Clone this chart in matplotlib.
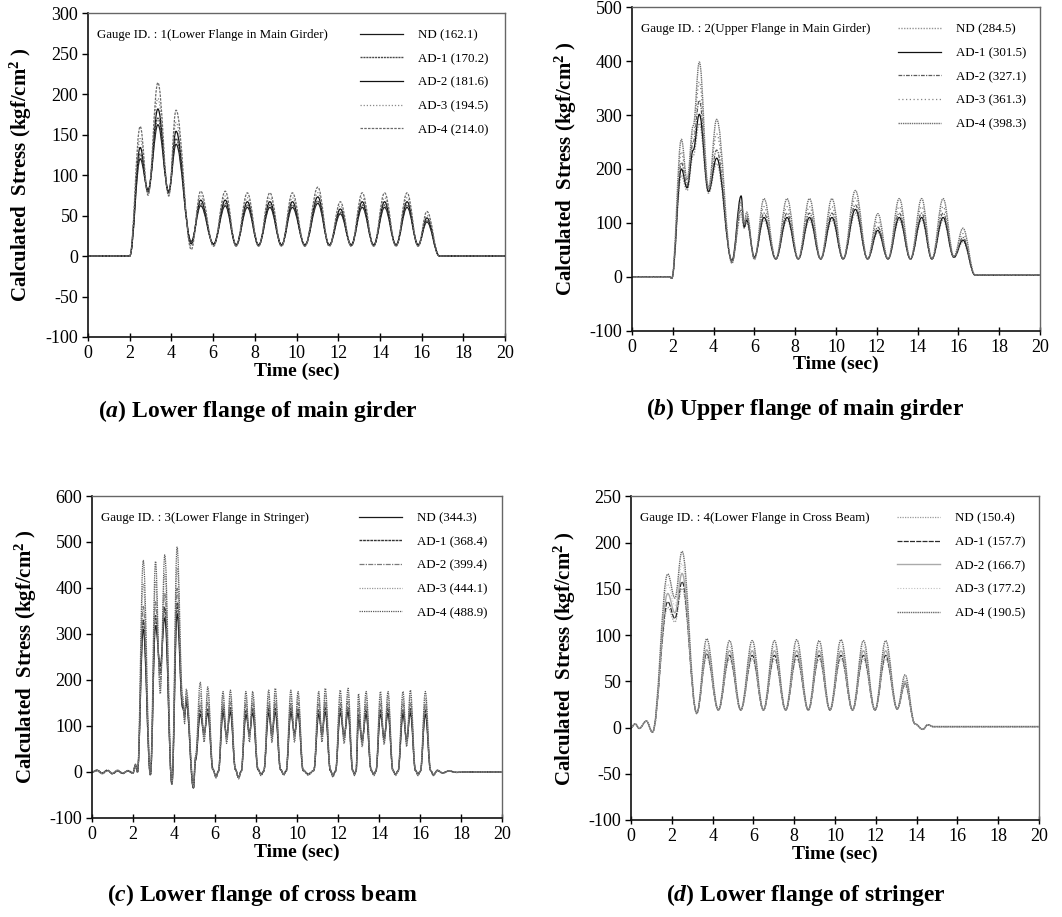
import matplotlib
matplotlib.use("Agg")
import matplotlib.pyplot as plt
from matplotlib.path import Path
from matplotlib.patches import PathPatch
from matplotlib.lines import Line2D

plt.rcParams.update({
    "font.family": ["Liberation Serif", "DejaVu Serif"],
    "mathtext.fontset": "custom",
    "mathtext.rm": "Liberation Serif",
    "mathtext.it": "Liberation Serif:italic",
    "mathtext.bf": "Liberation Serif:bold",
    "mathtext.bfit": "Liberation Serif:italic:bold",
    "mathtext.default": "regular",
    "axes.unicode_minus": False,
})

series_names = ["ND", "AD-1", "AD-2", "AD-3", "AD-4"]

# ---------------- (a) Gauge 1: lower flange, main girder ----------------
a_time = [0, 2.0, 2.5, 2.88, 3.35, 3.87, 4.22, 4.95, 5.40, 6.02, 6.58, 7.10, 7.64,
          8.18, 8.72, 9.28, 9.80, 10.40, 11.02, 11.57, 12.10, 12.62, 13.15, 13.70,
          14.22, 14.77, 15.30, 15.83, 16.25, 16.85, 20.0]
a_nd = [0, 0, 120, 82, 162.1, 80, 138, 18, 62, 15, 62, 14, 60, 14, 60, 14, 60, 14,
        65, 14, 52, 14, 60, 14, 60, 14, 60, 14, 42, 0, 0]
a_ad1 = [0, 0, 126, 80, 170.2, 79, 145, 17, 65, 14, 65, 13, 63, 13, 63, 13, 63, 13,
         68, 13, 54, 13, 63, 13, 63, 13, 63, 13, 44, 0, 0]
a_ad2 = [0, 0, 134, 79, 181.6, 78, 154, 15, 69, 14, 69, 13, 67, 13, 67, 13, 67, 13,
         73, 13, 58, 13, 67, 13, 67, 13, 67, 13, 47, 0, 0]
a_ad3 = [0, 0, 145, 77, 194.5, 76, 165, 12, 74, 13, 74, 12, 72, 12, 72, 12, 72, 12,
         78, 12, 62, 12, 72, 12, 72, 12, 72, 12, 50, 0, 0]
a_ad4 = [0, 0, 160, 75, 214.0, 74, 180, 8, 80, 12, 80, 12, 78, 12, 78, 12, 78, 12,
         85, 12, 67, 12, 78, 12, 78, 12, 78, 12, 55, 0, 0]

# ---------------- (b) Gauge 2: upper flange, main girder ----------------
b_time = [0, 1.85, 1.95, 2.42, 2.70, 3.00, 3.30, 3.75, 4.15, 4.90, 5.35, 5.50, 5.62,
          6.00, 6.47, 7.05, 7.60, 8.15, 8.70, 9.25, 9.80, 10.35, 10.95, 11.55, 12.05,
          12.55, 13.10, 13.65, 14.20, 14.70, 15.25, 15.78, 16.22, 16.82, 20.0]
b_nd = [0, 0, -3, 188, 160, 225, 284.5, 155, 210, 30, 115, 90, 100, 38, 105, 33, 105,
        33, 105, 33, 105, 33, 118, 33, 82, 33, 105, 33, 105, 33, 105, 36, 65, 3, 3]
b_ad1 = [0, 0, -3, 200, 165, 235, 301.5, 158, 220, 30, 150, 92, 105, 36, 110, 33, 110,
         33, 110, 33, 110, 33, 125, 33, 86, 33, 110, 33, 110, 33, 110, 36, 68, 3, 3]
b_ad2 = [0, 0, -3, 212, 170, 250, 327.1, 160, 235, 28, 125, 95, 110, 35, 118, 33, 118,
         33, 118, 33, 118, 33, 133, 33, 92, 33, 118, 33, 118, 33, 118, 36, 73, 3, 3]
b_ad3 = [0, 0, -3, 232, 175, 265, 361.3, 163, 265, 27, 132, 98, 115, 33, 130, 33, 130,
         33, 130, 33, 130, 33, 146, 33, 103, 33, 130, 33, 130, 33, 130, 37, 80, 3, 3]
b_ad4 = [0, 0, -3, 255, 180, 280, 398.3, 165, 292, 25, 140, 100, 120, 32, 145, 33, 145,
         33, 145, 33, 145, 33, 160, 33, 117, 33, 145, 33, 145, 33, 145, 38, 90, 3, 3]

# ---------------- (c) Gauge 3: lower flange, cross beam ----------------
c_time = [0.0, 0.25, 0.5, 0.75, 1.0, 1.25, 1.5, 1.75, 2.0, 2.12, 2.22,
          2.5, 2.85, 3.1, 3.33, 3.55, 3.9, 4.15, 4.42, 4.52, 4.6, 4.95, 5.05,
          5.28, 5.47, 5.65, 5.9, 6.05, 6.17,
          6.39, 6.57, 6.75, 7.0, 7.15, 7.28,
          7.51, 7.68, 7.84, 8.1, 8.25, 8.38,
          8.62, 8.78, 8.94, 9.2, 9.35, 9.47,
          9.7, 9.88, 10.05, 10.3, 10.55, 10.82,
          11.06, 11.22, 11.38, 11.63, 11.75, 11.88,
          12.11, 12.3, 12.49, 12.72, 12.8, 12.88,
          13.0, 13.18, 13.37, 13.62, 13.75, 13.85,
          14.07, 14.25, 14.44, 14.68, 14.8, 14.93,
          15.17, 15.35, 15.53, 15.78, 15.9, 16.02,
          16.26, 16.52, 16.65, 16.85, 17.1, 17.4, 17.8, 18.2, 20.0]
c_nd = [0, 3, -3, 3, -3, 3, -3, 2, -2, 15, 0,
        310, -5, 318, 230, 335, -25, 344.3, 140, 125, 150, -35, 25,
        125, 85, 128, 5, -10, 2,
        128, 80, 130, 5, -12, 2,
        125, 85, 128, 5, -5, 2,
        128, 82, 130, 5, -5, 2,
        128, 85, 128, 3, -5, 3,
        125, 85, 130, 3, -8, 2,
        128, 80, 130, 3, -5, 2,
        115, 70, 125, 3, -5, 2,
        125, 75, 128, 3, -5, 2,
        125, 70, 128, 3, -5, 2,
        125, 3, -6, 3, -2, 2, -1, 0, 0]
c_ad1 = [0, 4, -2, 4, -4, 2, -3, 3, -2, 14, 0,
         330, -6, 340, 215, 358, -26, 368.4, 145, 122, 158, -35, 27,
         135, 82, 138, 5, -10, 2,
         138, 77, 140, 5, -12, 2,
         135, 82, 138, 5, -6, 2,
         138, 80, 140, 5, -5, 2,
         138, 82, 138, 3, -4, 3,
         135, 82, 140, 3, -8, 2,
         138, 77, 140, 3, -5, 2,
         125, 68, 135, 3, -5, 2,
         135, 72, 138, 3, -5, 2,
         135, 68, 138, 3, -5, 2,
         135, 3, -6, 3, -2, 2, -1, 0, 0]
c_ad2 = [0, 2, -4, 3, -2, 4, -2, 2, -3, 16, 0,
         360, -5, 370, 200, 388, -27, 399.4, 150, 118, 165, -33, 30,
         150, 78, 152, 6, -11, 1,
         150, 73, 152, 6, -13, 1,
         148, 78, 150, 6, -6, 1,
         150, 76, 153, 6, -5, 1,
         150, 78, 150, 4, -5, 3,
         148, 78, 153, 4, -9, 1,
         150, 73, 153, 4, -6, 1,
         138, 65, 148, 4, -6, 1,
         148, 70, 150, 4, -6, 1,
         148, 65, 150, 4, -6, 1,
         148, 3, -7, 4, -2, 2, -1, 0, 0]
c_ad3 = [0, 3, -3, 2, -3, 3, -4, 3, -2, 15, 0,
         410, -6, 415, 185, 430, -28, 444.1, 160, 112, 172, -30, 32,
         170, 72, 170, 6, -12, 1,
         165, 68, 165, 6, -14, 1,
         162, 72, 165, 6, -7, 1,
         165, 70, 168, 6, -6, 1,
         165, 72, 165, 4, -6, 3,
         162, 72, 168, 4, -10, 1,
         165, 68, 168, 4, -7, 1,
         152, 60, 162, 4, -7, 1,
         162, 65, 165, 4, -7, 1,
         162, 60, 165, 4, -7, 1,
         160, 4, -7, 4, -3, 2, -1, 0, 0]
c_ad4 = [0, 4, -3, 3, -4, 2, -3, 2, -3, 17, 0,
         460, -7, 458, 170, 472, -28, 488.9, 165, 105, 180, -28, 35,
         195, 65, 185, 7, -13, 1,
         175, 62, 178, 7, -15, 1,
         175, 65, 175, 7, -8, 1,
         178, 64, 182, 7, -7, 1,
         178, 65, 175, 5, -7, 3,
         175, 65, 182, 5, -11, 1,
         178, 62, 182, 5, -8, 1,
         170, 55, 175, 5, -8, 1,
         175, 60, 175, 5, -8, 1,
         175, 55, 178, 5, -8, 1,
         175, 4, -8, 4, -3, 2, -1, 0, 0]

# ---------------- (d) Gauge 4: lower flange, stringer ----------------
d_time = [0, 0.2, 0.4, 0.75, 1.05, 1.80, 2.15, 2.50, 3.22, 3.71, 4.28, 4.83, 5.38,
          5.94, 6.49, 7.03, 7.58, 8.12, 8.69, 9.22, 9.75, 10.29, 10.86, 11.39, 11.96,
          12.48, 13.05, 13.43, 13.92, 14.30, 14.55, 14.80, 20.0]
d_nd = [0, 4, -1, 7, -5, 130, 114, 150.4, 16, 76, 19, 74, 19, 74, 19, 74, 19, 74, 19,
        74, 19, 74, 19, 74, 19, 74, 20, 45, 4, -2, 3, 1, 1]
d_ad1 = [0, 4, -1, 7, -5, 136, 118, 157.7, 16, 80, 19, 78, 19, 78, 19, 78, 19, 78, 19,
         78, 19, 78, 19, 78, 19, 78, 20, 48, 4, -2, 3, 1, 1]
d_ad2 = [0, 4, -1, 7, -5, 145, 124, 166.7, 16, 84, 19, 83, 19, 83, 19, 83, 19, 83, 19,
         83, 19, 83, 19, 83, 19, 83, 20, 50, 4, -2, 3, 1, 1]
d_ad3 = [0, 4, -1, 7, -5, 155, 132, 177.2, 15, 89, 19, 88, 19, 88, 19, 88, 19, 88, 19,
         88, 19, 88, 19, 88, 19, 88, 20, 53, 4, -2, 3, 1, 1]
d_ad4 = [0, 4, -1, 7, -5, 166, 140, 190.5, 15, 96, 19, 94, 19, 94, 19, 94, 19, 95, 19,
         94, 19, 95, 19, 94, 19, 94, 20, 57, 4, -2, 3, 1, 1]

x_ticks = list(range(0, 21, 2))

panels = [
    dict(rect=[0.0829, 0.6325, 0.3927, 0.3533], time=a_time,
         values=[a_nd, a_ad1, a_ad2, a_ad3, a_ad4],
         ylim=(-100, 300), yticks=list(range(-100, 301, 50)),
         gauge="Gauge ID. : 1(Lower Flange in Main Girder)",
         caption="($\\mathbfit{a}$) Lower flange of main girder", cap_xy=(0.243, 0.552),
         styles=[("#1a1a1a", "-", 0.9), ("#4a4a4a", (0, (1.5, 0.6)), 1.0),
                 ("#111111", "-", 0.9), ("#8a8a8a", (0, (1, 1.5)), 0.9),
                 ("#6a6a6a", (0, (2, 1)), 0.9)]),
    dict(rect=[0.5951, 0.6394, 0.3842, 0.3527], time=b_time,
         values=[b_nd, b_ad1, b_ad2, b_ad3, b_ad4],
         ylim=(-100, 500), yticks=list(range(-100, 501, 100)),
         gauge="Gauge ID. : 2(Upper Flange in Main Girder)",
         caption="($\\mathbfit{b}$) Upper flange of main girder", cap_xy=(0.758, 0.554),
         styles=[("#959595", (0, (1, 1)), 1.0), ("#111111", "-", 0.9),
                 ("#5a5a5a", (0, (3, 1, 1, 1)), 0.9), ("#858585", (0, (1, 2)), 0.9),
                 ("#707070", (0, (1, 0.6)), 1.0)]),
    dict(rect=[0.0866, 0.1080, 0.3861, 0.3511], time=c_time,
         values=[c_nd, c_ad1, c_ad2, c_ad3, c_ad4],
         ylim=(-100, 600), yticks=list(range(-100, 601, 100)),
         gauge="Gauge ID. : 3(Lower Flange in Stringer)",
         caption="($\\mathbfit{c}$) Lower flange of cross beam", cap_xy=(0.247, 0.024),
         styles=[("#1a1a1a", "-", 0.9), ("#333333", (0, (2, 0.6)), 1.0),
                 ("#7a7a7a", (0, (4, 1, 1, 1)), 0.9), ("#9a9a9a", (0, (1, 1)), 0.9),
                 ("#5a5a5a", (0, (1, 0.8)), 0.9)]),
    dict(rect=[0.5942, 0.1058, 0.3842, 0.3529], time=d_time,
         values=[d_nd, d_ad1, d_ad2, d_ad3, d_ad4],
         ylim=(-100, 250), yticks=list(range(-100, 251, 50)),
         gauge="Gauge ID. : 4(Lower Flange in Cross Beam)",
         caption="($\\mathbfit{d}$) Lower flange of stringer", cap_xy=(0.759, 0.024),
         styles=[("#9a9a9a", (0, (1, 1)), 0.9), ("#2a2a2a", (0, (4, 1)), 0.9),
                 ("#aaaaaa", "-", 1.0), ("#c0c0c0", (0, (1, 1.5)), 0.8),
                 ("#6a6a6a", (0, (1, 0.6)), 1.0)]),
]


def smooth_path(t, y, k=0.38):
    """Cubic Bezier path through the knots with flat tangents at each knot."""
    verts = [(t[0], y[0])]
    codes = [Path.MOVETO]
    for i in range(len(t) - 1):
        dt = t[i + 1] - t[i]
        verts += [(t[i] + k * dt, y[i]), (t[i + 1] - k * dt, y[i + 1]), (t[i + 1], y[i + 1])]
        codes += [Path.CURVE4] * 3
    return Path(verts, codes)


fig = plt.figure(figsize=(10.62, 9.17), dpi=100)

for p in panels:
    ax = fig.add_axes(p["rect"])
    handles = []
    labels = []
    for name, vals, (col, ls, lw) in zip(series_names, p["values"], p["styles"]):
        patch = PathPatch(smooth_path(p["time"], vals), fill=False, edgecolor=col,
                          linestyle=ls, linewidth=lw, joinstyle="round")
        ax.add_patch(patch)
        handles.append(Line2D([], [], color=col, linestyle=ls, linewidth=lw))
        labels.append(f"{name} ({max(vals):.1f})")

    ax.set_xlim(0, 20)
    ax.set_ylim(*p["ylim"])
    ax.set_xticks(x_ticks)
    ax.set_yticks(p["yticks"])
    ax.tick_params(axis="y", direction="out", length=4, width=1, labelsize=13, pad=3)
    ax.tick_params(axis="x", direction="inout", length=6, width=1, labelsize=13, pad=3)
    for side in ("left", "bottom"):
        ax.spines[side].set_linewidth(1.2)
        ax.spines[side].set_color("#111111")
    for side in ("top", "right"):
        ax.spines[side].set_linewidth(1.0)
        ax.spines[side].set_color("#666666")

    ax.set_xlabel("Time (sec)", fontsize=14, fontweight="bold", labelpad=0)
    ax.set_ylabel("Calculated  Stress (kgf/cm$^{2}$ )", fontsize=15, fontweight="bold")
    ax.yaxis.set_label_coords(-0.13, 0.5)

    ax.text(0.022, 0.932, p["gauge"], transform=ax.transAxes, fontsize=9.3,
            va="center", ha="left")
    ax.legend(handles, labels, loc="upper left", bbox_to_anchor=(0.652, 0.95),
              frameon=False, fontsize=9.3, handlelength=3.3, handletextpad=1.2,
              labelspacing=0.9, borderpad=0, borderaxespad=0)

    fig.text(p["cap_xy"][0], p["cap_xy"][1], p["caption"], fontsize=17,
             fontweight="bold", ha="center", va="center")

fig.savefig("out.png", dpi=100)
